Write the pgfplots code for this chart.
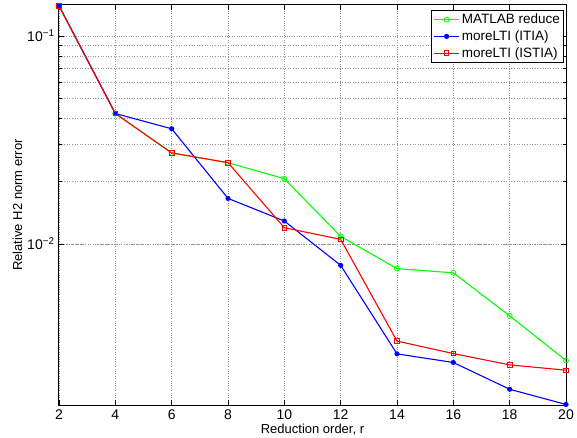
\documentclass[border=0pt]{standalone}
\usepackage{fontspec}
\setmainfont{Liberation Sans}
\usepackage{pgfplots}
\pgfplotsset{compat=1.18}

\begin{document}
\fontsize{13}{15}\selectfont
\begin{tikzpicture}
\useasboundingbox (-59pt,-33pt) rectangle (518pt,405pt);
\begin{axis}[
  at={(0pt,0pt)}, anchor=south west,
  scale only axis, width=507pt, height=400pt,
  ymode=log, xmin=2, xmax=20, ymin=0.00168, ymax=0.141,
  xtick={2,4,...,20},
  ytick={0.01,0.1}, yticklabels={10\textsuperscript{−2},10\textsuperscript{−1}},
  /pgf/number format/assume math mode=true,
  ticklabel style={font=\fontsize{14}{16}\selectfont},
  xmajorgrids, ymajorgrids, yminorgrids,
  grid style={dotted, gray!85, line width=0.6pt},
  minor grid style={dotted, gray!85, line width=0.6pt},
  tick align=inside, major tick length=5pt, minor tick length=3pt,
  tick style={black, line width=0.6pt},
  axis line style={black, line width=1pt},
  xlabel={Reduction order, r}, ylabel={Relative H2 norm error},
  xlabel style={yshift=4pt},
  ylabel style={yshift=-4pt},
  legend cell align=left,
  legend style={at={(rel axis cs:0.996,0.988)}, anchor=north east,
    draw=black, line width=1pt, font=\fontsize{13.5}{15}\selectfont,
    inner sep=1.5pt, row sep=1pt},
  legend image code/.code={\draw[mark repeat=2,mark phase=2] plot coordinates {(0cm,0cm)(0.45cm,0cm)(0.9cm,0cm)};},
]
\addplot[color={rgb,1:red,0;green,1;blue,0}, line width=1.1pt, mark=o, mark size=2.5pt, mark options={line width=0.8pt}] coordinates {
(2,0.1398)(4,0.0424)(6,0.0274)(8,0.0246)(10,0.02058)(12,0.01088)(14,0.00761)(16,0.00726)(18,0.00451)(20,0.00275)};
\addplot[color={rgb,1:red,0;green,0;blue,1}, line width=1.1pt, mark=*, mark size=2pt] coordinates {
(2,0.1398)(4,0.0424)(6,0.0358)(8,0.01656)(10,0.01289)(12,0.00789)(14,0.00296)(16,0.00269)(18,0.00200)(20,0.00169)};
\addplot[color={rgb,1:red,1;green,0;blue,0}, line width=1.1pt, mark=square, mark size=2.3pt, mark options={line width=0.8pt}] coordinates {
(2,0.1398)(4,0.0424)(6,0.0274)(8,0.0246)(10,0.01197)(12,0.01052)(14,0.00341)(16,0.00297)(18,0.00262)(20,0.00247)};
\legend{MATLAB reduce,moreLTI (ITIA),moreLTI (ISTIA)}
\end{axis}
\end{tikzpicture}
\end{document}
